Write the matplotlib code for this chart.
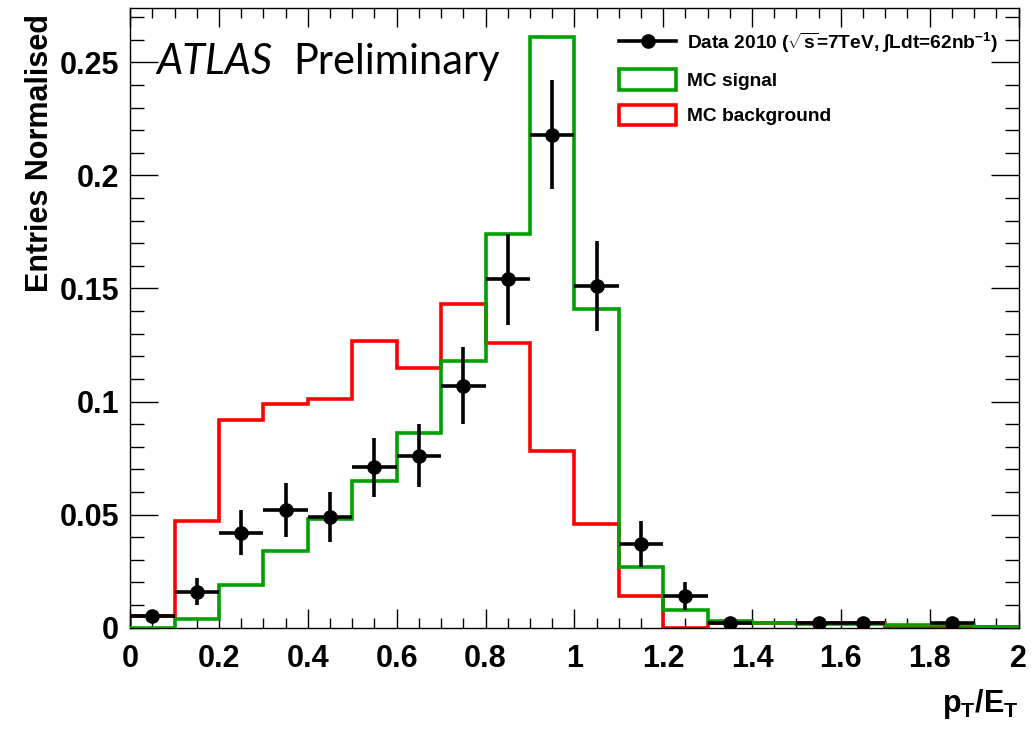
#!/usr/bin/env python3
"""pT/ET distribution: data vs MC signal / background (ATLAS style)."""
import numpy as np
import matplotlib
matplotlib.use("Agg")
import matplotlib.pyplot as plt
from matplotlib.patches import Patch
from matplotlib.lines import Line2D
from matplotlib.ticker import MultipleLocator

plt.rcParams["font.family"] = ["Liberation Sans", "DejaVu Sans"]
plt.rcParams["mathtext.fontset"] = "custom"
plt.rcParams["mathtext.rm"] = "Liberation Sans:bold"
plt.rcParams["mathtext.it"] = "Liberation Sans:bold"

edges = np.round(np.arange(0, 2.01, 0.1), 2)

mc_signal = [0.0, 0.004, 0.019, 0.034, 0.048, 0.065, 0.086, 0.118, 0.174, 0.261,
             0.141, 0.027, 0.008, 0.003, 0.002, 0.0015, 0.0015, 0.001, 0.001, 0.0005]
mc_background = [0.005, 0.047, 0.092, 0.099, 0.101, 0.127, 0.115, 0.143, 0.126, 0.078,
                 0.046, 0.014, 0.0, 0.002, 0.002, 0.002, 0.002, 0.0005, 0.0005, 0.0005]

data_x = [0.05, 0.15, 0.25, 0.35, 0.45, 0.55, 0.65, 0.75, 0.85, 0.95,
          1.05, 1.15, 1.25, 1.35, 1.55, 1.65, 1.85]
data_y = [0.005, 0.016, 0.042, 0.052, 0.049, 0.071, 0.076, 0.107, 0.154, 0.218,
          0.151, 0.037, 0.014, 0.002, 0.002, 0.002, 0.002]
data_err = [0.003, 0.006, 0.010, 0.012, 0.011, 0.013, 0.014, 0.017, 0.020, 0.024,
            0.020, 0.010, 0.006, 0.001, 0.001, 0.001, 0.001]

green = "#00a000"
red = "#ff0000"

fig = plt.figure(figsize=(10.33, 7.35), dpi=100)
ax = fig.add_axes([0.126, 0.146, 0.860, 0.843])

ax.stairs(mc_background, edges, color=red, linewidth=2.6, zorder=2)
ax.stairs(mc_signal, edges, color=green, linewidth=2.6, zorder=3)
ax.errorbar(data_x, data_y, yerr=data_err, xerr=0.05, fmt="o", color="black",
            markersize=9.5, elinewidth=2.6, capsize=0, zorder=4)

ax.set_xlim(0, 2)
ax.set_ylim(0, 0.274)
ax.xaxis.set_minor_locator(MultipleLocator(0.05))
ax.yaxis.set_minor_locator(MultipleLocator(0.01))
ax.set_xticks(np.arange(0, 2.01, 0.2))
ax.set_xticklabels(["0", "0.2", "0.4", "0.6", "0.8", "1", "1.2", "1.4", "1.6", "1.8", "2"])
ax.set_yticks([0, 0.05, 0.1, 0.15, 0.2, 0.25])
ax.set_yticklabels(["0", "0.05", "0.1", "0.15", "0.2", "0.25"])
ax.tick_params(which="both", direction="in", top=True, right=True, width=1.0,
               labelsize=22)
ax.tick_params(axis="x", which="major", length=14, pad=12)
ax.tick_params(axis="x", which="minor", length=7)
ax.tick_params(axis="y", which="major", length=20, pad=8)
ax.tick_params(axis="y", which="minor", length=10)
for lab in ax.get_xticklabels() + ax.get_yticklabels():
    lab.set_fontweight("bold")
for s in ax.spines.values():
    s.set_linewidth(1.0)

ax.set_ylabel("Entries Normalised", fontsize=22, fontweight="bold")
ax.yaxis.set_label_coords(-0.085, 0.99)
ax.yaxis.label.set_horizontalalignment("right")
ax.set_xlabel(r"p$_\mathregular{T}$/E$_\mathregular{T}$", fontsize=22, fontweight="bold")
ax.xaxis.set_label_coords(1.0, -0.095)
ax.xaxis.label.set_horizontalalignment("right")

ax.text(0.029, 0.913, "ATLAS", transform=ax.transAxes, fontsize=30, style="italic",
        family="Lato", va="center")
ax.text(0.184, 0.913, "Preliminary", transform=ax.transAxes, fontsize=30,
        family="Lato", va="center")

handles = [
    Line2D([], [], color="black", marker="o", markersize=9.5, linewidth=2.6),
    Patch(facecolor="none", edgecolor=green, linewidth=2.6),
    Patch(facecolor="none", edgecolor=red, linewidth=2.6),
]
labels = [r"Data 2010 ($\sqrt{\mathregular{s}}$=7TeV, $\int$Ldt=62nb$^{\mathregular{-1}}$)",
          "MC signal", "MC background"]
leg = ax.legend(handles, labels, loc="upper left", bbox_to_anchor=(0.535, 0.985),
                frameon=False, fontsize=13.8, handlelength=3.0, handleheight=1.3,
                labelspacing=0.75, handletextpad=0.55, borderaxespad=0.3)
for t in leg.get_texts():
    t.set_fontweight("bold")

fig.savefig("out.png", dpi=100)
